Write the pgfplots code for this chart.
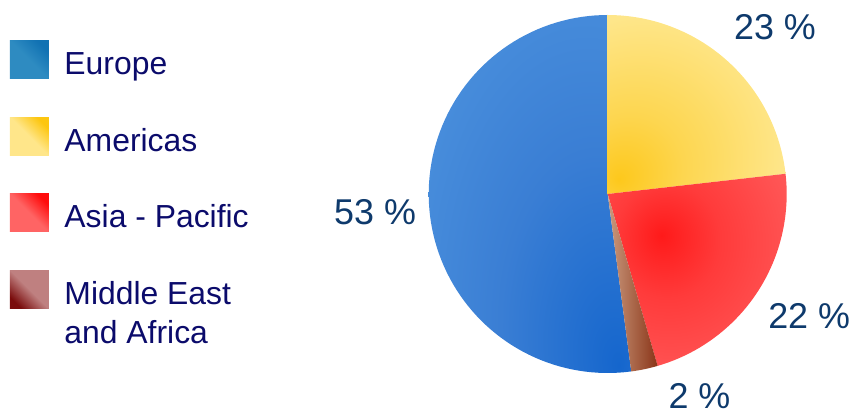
\documentclass[border=0pt]{standalone}
\usepackage{pgfplots}
\pgfplotsset{compat=1.18}
\usepackage{fontspec}
\setmainfont{Liberation Sans}

\definecolor{eudark}{HTML}{1566CD}
\definecolor{eumid}{HTML}{3A7ED4}
\definecolor{eulight}{HTML}{4D93DE}
\definecolor{amdark}{HTML}{FDC81C}
\definecolor{ammid}{HTML}{FDD650}
\definecolor{amlight}{HTML}{FEE68A}
\definecolor{asdark}{HTML}{FF1A1A}
\definecolor{asmid}{HTML}{FF3B3B}
\definecolor{aslight}{HTML}{FF5656}
\definecolor{melight}{HTML}{CB9A7E}
\definecolor{medark}{HTML}{8A3518}
\definecolor{labelcol}{HTML}{0E3A6C}
\definecolor{legcol}{HTML}{0B0B6B}
\definecolor{lgeuA}{HTML}{1172B3}
\definecolor{lgeuB}{HTML}{2E8BC1}
\definecolor{lgamA}{HTML}{FDC60F}
\definecolor{lgamB}{HTML}{FFE68A}
\definecolor{lgasA}{HTML}{FF0C0C}
\definecolor{lgasB}{HTML}{FF6464}
\definecolor{lgmeA}{HTML}{7A0C0C}
\definecolor{lgmeB}{HTML}{BF8080}

\pgfdeclareradialshading{eushade}{\pgfpoint{22bp}{-24bp}}{color(0bp)=(eudark); color(24bp)=(eumid); color(50bp)=(eulight); color(100bp)=(eulight)}
\pgfdeclareradialshading{amshade}{\pgfpoint{-22bp}{-21bp}}{color(0bp)=(amdark); color(15bp)=(ammid); color(38bp)=(amlight); color(100bp)=(amlight)}
\pgfdeclareradialshading{asshade}{\pgfpoint{-10bp}{9bp}}{color(0bp)=(asdark); color(15bp)=(asmid); color(35bp)=(aslight); color(100bp)=(aslight)}

\begin{document}
\begin{tikzpicture}
\path[use as bounding box] (0,0) rectangle (856bp,414bp);
\begin{axis}[
  at={(607.7bp,220bp)}, anchor=center,
  scale only axis, width=358bp, height=358bp,
  xmin=-1, xmax=1, ymin=-1, ymax=1,
  hide axis, clip=false,
  legend cell align=left,
  legend style={at={(axis description cs:-1.1696,0.9274)}, anchor=north west,
    draw=none, fill=none, inner sep=0pt, outer sep=0pt,
    font=\fontsize{32}{39}\selectfont, text=legcol,
    row sep={76.5bp,between origins}, column sep=13.5bp,
    cells={anchor=base west, inner sep=0pt}},
]
% Europe 52.1 %
\addplot[draw=none, shade, shading=eushade, domain={90-3.6*100}:{90-3.6*47.9}, samples=90, variable=\t,
  legend image code/.code={\fill[top color=lgeuA, bottom color=lgeuB, middle color=lgeuB, shading angle=-45] (0bp,-4bp) rectangle (39bp,34bp);}]
  ({cos(\t)},{sin(\t)}) -- (0,0) -- cycle;
\addlegendentry{Europe}
% Americas 23.2 %
\addplot[draw=none, shade, shading=amshade, domain={90-3.6*23.2}:{90}, samples=45, variable=\t,
  legend image code/.code={\fill[top color=lgamA, bottom color=lgamB, middle color=lgamB, shading angle=-45] (0bp,-4bp) rectangle (39bp,34bp);}]
  ({cos(\t)},{sin(\t)}) -- (0,0) -- cycle;
\addlegendentry{Americas}
% Asia - Pacific 22.3 %
\addplot[draw=none, shade, shading=asshade, domain={90-3.6*45.5}:{90-3.6*23.2}, samples=45, variable=\t,
  legend image code/.code={\fill[top color=lgasA, bottom color=lgasB, middle color=lgasB, shading angle=-45] (0bp,-4bp) rectangle (39bp,34bp);}]
  ({cos(\t)},{sin(\t)}) -- (0,0) -- cycle;
\addlegendentry{Asia - Pacific}
% Middle East and Africa 2.4 %
\addplot[draw=none, left color=melight, right color=medark, domain={90-3.6*47.9}:{90-3.6*45.5}, samples=10, variable=\t,
  legend image code/.code={\fill[top color=lgmeB, bottom color=lgmeA, middle color=lgmeB, shading angle=-45] (0bp,-4bp) rectangle (39bp,34bp);}]
  ({cos(\t)},{sin(\t)}) -- (0,0) -- cycle;
\addlegendentry{\vtop{\hbox{Middle East}\hbox{and Africa}}}

\node[anchor=base west, inner sep=0pt, text=labelcol, font=\fontsize{36}{43}\selectfont] at (axis cs:0.705,0.864) {23 \%};
\node[anchor=base west, inner sep=0pt, text=labelcol, font=\fontsize{36}{43}\selectfont] at (axis cs:-1.529,-0.168) {53 \%};
\node[anchor=base west, inner sep=0pt, text=labelcol, font=\fontsize{36}{43}\selectfont] at (axis cs:0.896,-0.749) {22 \%};
\node[anchor=base west, inner sep=0pt, text=labelcol, font=\fontsize{36}{43}\selectfont] at (axis cs:0.339,-1.197) {2 \%};
\end{axis}
\end{tikzpicture}
\end{document}
